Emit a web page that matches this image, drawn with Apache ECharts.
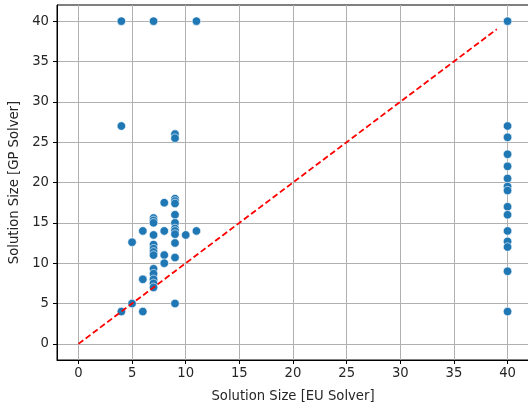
<!DOCTYPE html>
<html>
<head>
<meta charset="utf-8">
<script src="https://cdn.jsdelivr.net/npm/echarts@6/dist/echarts.min.js"></script>
<style>
  html, body { margin: 0; padding: 0; background: #fff; }
  #chart { width: 528px; height: 408px; }
</style>
</head>
<body>
<div id="chart"></div>
<script>
// solution sizes, EU solver (x) vs GP solver (y)
var euSize = [
  4, 4, 4,
  5, 5,
  6, 6, 6,
  7, 7, 7, 7, 7, 7, 7, 7, 7, 7, 7, 7, 7, 7,
  8, 8, 8, 8,
  9, 9, 9, 9, 9, 9, 9, 9, 9, 9, 9, 9, 9,
  10,
  11, 11,
  40, 40, 40, 40, 40, 40, 40, 40, 40, 40, 40, 40, 40, 40, 40
];
var gpSize = [
  40, 27, 4,
  12.6, 5,
  14, 8, 4,
  40, 15.6, 15.3, 15, 13.5, 12.3, 11.8, 11.4, 9.3, 8.7, 8, 7.5, 7, 11,
  17.5, 14, 11, 10,
  26, 25.5, 18, 17.7, 17.4, 16, 15, 14.3, 14, 13.6, 12.5, 10.7, 5,
  13.5,
  40, 14,
  40, 27, 25.6, 23.5, 22, 20.5, 19.5, 19, 17, 16, 14, 12.7, 12, 9, 4
];
var diagX = [0, 39];
var diagY = [0, 39];
var xTicks = [0, 5, 10, 15, 20, 25, 30, 35, 40];
var yTicks = [0, 5, 10, 15, 20, 25, 30, 35, 40];

var points = euSize.map(function (x, i) { return [x, gpSize[i]]; });
var diag = diagX.map(function (x, i) { return [x, diagY[i]]; });

var font = 'DejaVu Sans';
var textColor = '#262626';
var fs = 13.2;

var chart = echarts.init(document.getElementById('chart'));
chart.setOption({
  animation: false,
  grid: {
    left: 57, right: -1, top: 5, bottom: 48,
    containLabel: false, outerBoundsMode: 'none',
    show: true, borderColor: '#000', borderWidth: 1
  },
  xAxis: {
    type: 'value', min: -2, max: 42,
    name: 'Solution Size [EU Solver]', nameLocation: 'middle', nameGap: 30,
    nameTextStyle: { color: textColor, fontFamily: font, fontSize: fs },
    axisLine: { onZero: false, lineStyle: { color: '#000', width: 1 } },
    axisTick: { customValues: xTicks, length: 4, lineStyle: { color: '#000' } },
    axisLabel: { customValues: xTicks, color: textColor, fontFamily: font, fontSize: fs, margin: 7 },
    splitLine: { show: true, lineStyle: { color: '#b0b0b0', width: 1 } }
  },
  yAxis: {
    type: 'value', min: -2, max: 42,
    name: 'Solution Size [GP Solver]', nameLocation: 'middle', nameGap: 30,
    nameTextStyle: { color: textColor, fontFamily: font, fontSize: fs },
    axisLine: { show: true, onZero: false, lineStyle: { color: '#000', width: 1 } },
    axisTick: { show: true, customValues: yTicks, length: 4, lineStyle: { color: '#000' } },
    axisLabel: { customValues: yTicks, color: textColor, fontFamily: font, fontSize: fs, margin: 8 },
    splitLine: { show: true, lineStyle: { color: '#b0b0b0', width: 1 } }
  },
  series: [
    {
      type: 'scatter',
      data: points,
      symbolSize: 8.5,
      itemStyle: { color: '#1f77b4', borderColor: '#fff', borderWidth: 0.6, opacity: 1 }
    },
    {
      type: 'line',
      data: diag,
      showSymbol: false,
      z: 5,
      lineStyle: { color: '#ff0000', width: 1.8, type: [6, 3] }
    }
  ]
});
</script>
</body>
</html>
